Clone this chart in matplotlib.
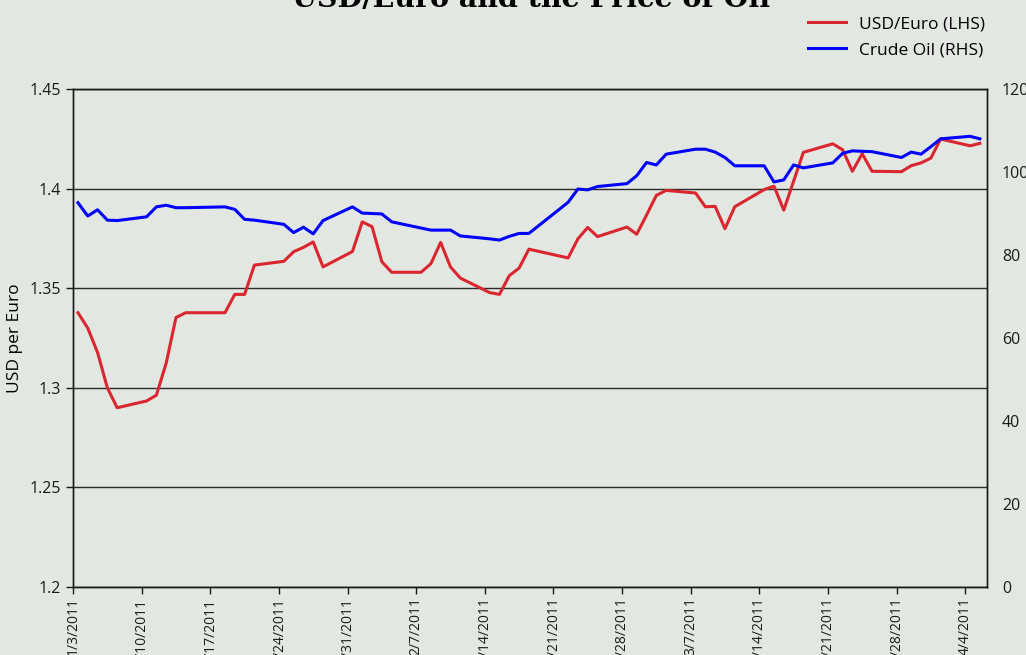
import datetime as dt

import matplotlib.pyplot as plt
import matplotlib.dates as mdates
import matplotlib.ticker as mticker

plt.rcParams['font.family'] = ['Open Sans', 'DejaVu Sans']

# trading days (1/17 and 2/21 are US holidays, no points)
dates = ['2011-01-03', '2011-01-04', '2011-01-05', '2011-01-06', '2011-01-07',
         '2011-01-10', '2011-01-11', '2011-01-12', '2011-01-13', '2011-01-14',
         '2011-01-18', '2011-01-19', '2011-01-20', '2011-01-21',
         '2011-01-24', '2011-01-25', '2011-01-26', '2011-01-27', '2011-01-28',
         '2011-01-31', '2011-02-01', '2011-02-02', '2011-02-03', '2011-02-04',
         '2011-02-07', '2011-02-08', '2011-02-09', '2011-02-10', '2011-02-11',
         '2011-02-14', '2011-02-15', '2011-02-16', '2011-02-17', '2011-02-18',
         '2011-02-22', '2011-02-23', '2011-02-24', '2011-02-25',
         '2011-02-28', '2011-03-01', '2011-03-02', '2011-03-03', '2011-03-04',
         '2011-03-07', '2011-03-08', '2011-03-09', '2011-03-10', '2011-03-11',
         '2011-03-14', '2011-03-15', '2011-03-16', '2011-03-17', '2011-03-18',
         '2011-03-21', '2011-03-22', '2011-03-23', '2011-03-24', '2011-03-25',
         '2011-03-28', '2011-03-29', '2011-03-30', '2011-03-31', '2011-04-01',
         '2011-04-04', '2011-04-05']

usd_euro = [1.3377, 1.3300, 1.3177, 1.3000, 1.2900,
            1.2934, 1.2963, 1.3124, 1.3353, 1.3377,
            1.3377, 1.3469, 1.3469, 1.3616,
            1.3635, 1.3683, 1.3705, 1.3732, 1.3607,
            1.3684, 1.3833, 1.3809, 1.3633, 1.3580,
            1.3580, 1.3623, 1.3730, 1.3607, 1.3551,
            1.3478, 1.3469, 1.3563, 1.3601, 1.3696,
            1.3652, 1.3748, 1.3805, 1.3759,
            1.3807, 1.3771, 1.3867, 1.3966, 1.3991,
            1.3978, 1.3909, 1.3911, 1.3799, 1.3909,
            1.3995, 1.4012, 1.3892, 1.4037, 1.4182,
            1.4225, 1.4195, 1.4087, 1.4175, 1.4087,
            1.4085, 1.4115, 1.4129, 1.4153, 1.4249,
            1.4215, 1.4227]

crude_oil = [92.6, 89.4, 90.9, 88.4, 88.3,
             89.2, 91.6, 92.0, 91.4, 91.4,
             91.6, 91.0, 88.6, 88.4,
             87.4, 85.4, 86.7, 85.1, 88.3,
             91.6, 90.1, 90.0, 89.9, 88.0,
             86.5, 86.0, 86.0, 86.0, 84.6,
             83.9, 83.6, 84.5, 85.2, 85.2,
             92.7, 95.9, 95.7, 96.5,
             97.2, 99.1, 102.3, 101.7, 104.3,
             105.5, 105.5, 104.8, 103.5, 101.5,
             101.5, 97.6, 98.1, 101.7, 101.0,
             102.2, 104.5, 105.1, 105.0, 104.9,
             103.5, 104.8, 104.3, 106.1, 108.0,
             108.6, 108.0]

left_ticks = [1.2, 1.25, 1.3, 1.35, 1.4, 1.45]
right_ticks = [0, 20, 40, 60, 80, 100, 120]

BG = '#e3e7e2'
RED = '#d9262f'
BLUE = '#0000ff'
TICK_FONTSIZE = 11.5

# points sit in the middle of their day, like the spreadsheet chart
x = [dt.datetime.strptime(d, '%Y-%m-%d') + dt.timedelta(hours=12) for d in dates]

fig = plt.figure(figsize=(10.26, 6.55), dpi=100, facecolor=BG)
ax = fig.add_axes([0.0712, 0.1038, 0.8905, 0.7603], facecolor=BG)
ax2 = ax.twinx()

l1, = ax.plot(x, usd_euro, color=RED, lw=2.2, label='USD/Euro (LHS)', zorder=3)
l2, = ax2.plot(x, crude_oil, color=BLUE, lw=2.2, label='Crude Oil (RHS)')

ax.set_ylim(1.2, 1.45)
ax.set_yticks(left_ticks)
ax.yaxis.set_major_formatter(mticker.FuncFormatter(lambda v, p: f'{v:g}'))
ax2.set_ylim(0, 120)
ax2.set_yticks(right_ticks)

ax.set_xlim(dt.datetime(2011, 1, 3), dt.datetime(2011, 1, 3) + dt.timedelta(days=93.2))
ax.xaxis.set_major_locator(mdates.WeekdayLocator(byweekday=mdates.MO))
ax.xaxis.set_major_formatter(mticker.FuncFormatter(
    lambda v, p: '{d.month}/{d.day}/{d.year}'.format(d=mdates.num2date(v))))

ax.grid(axis='y', color='#2a2a2a', lw=1.0)
ax.set_axisbelow(True)

for a in (ax, ax2):
    for s in a.spines.values():
        s.set_color('#1a1a1a')
        s.set_linewidth(1.0)

ax.tick_params(axis='y', direction='out', length=5, width=1.0, pad=4,
               labelsize=TICK_FONTSIZE, colors='#1a1a1a')
ax.tick_params(axis='x', direction='out', length=5, width=1.0, pad=2.5,
               labelsize=10, labelrotation=90, colors='#1a1a1a')
ax2.tick_params(axis='y', length=0, pad=11, labelsize=TICK_FONTSIZE, colors='#1a1a1a')
for t in ax.get_xticklabels():
    t.set_verticalalignment('top')

ax.set_ylabel('USD per Euro', fontsize=12.5, va='center')
ax.yaxis.set_label_coords(-0.0635, 0.5)

fig.text(0.518, 1 - 7 / 655, 'USD/Euro and the Price of Oil', ha='center',
         va='baseline', fontsize=20.5, fontweight='bold', family='DejaVu Serif')

fig.legend(handles=[l1, l2], loc='upper left', bbox_to_anchor=(0.772, 0.999),
           frameon=False, fontsize=12.5, handlelength=2.2, handletextpad=0.75,
           labelspacing=0.55)

fig.savefig('out.png', dpi=100, facecolor=BG)
